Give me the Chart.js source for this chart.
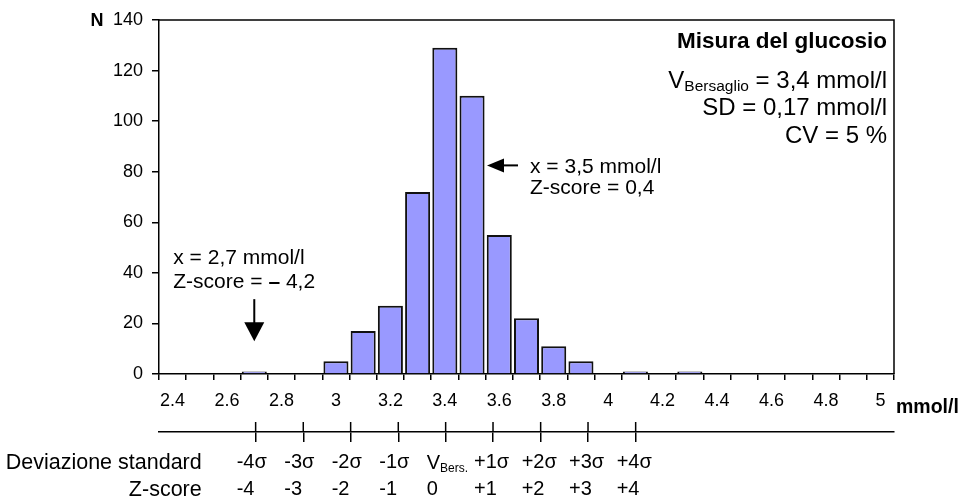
<!DOCTYPE html>
<html>
<head>
<meta charset="utf-8">
<script src="https://cdn.jsdelivr.net/npm/chart.js@4.4.1/dist/chart.umd.min.js"></script>
<style>
  body { margin: 0; background: #fff; }
</style>
</head>
<body>
<canvas id="grafico" width="961" height="504"></canvas>
<script>
const classi = ['2.4', '2.5', '2.6', '2.7', '2.8', '2.9', '3', '3.1', '3.2', '3.3', '3.4', '3.5', '3.6', '3.7',
  '3.8', '3.9', '4', '4.1', '4.2', '4.3', '4.4', '4.5', '4.6', '4.7', '4.8', '4.9', '5']
const frequenze = [0, 0, 0, 1, 0, 0, 5, 17, 27, 72, 129, 110, 55, 22, 11, 5, 0, 1, 0, 1, 0, 0, 0, 0, 0, 0, 0]

// posizioni (mmol/l) delle tacche della scala in deviazioni standard
const posizioniSigma = [2.705, 2.880, 3.054, 3.229, 3.403, 3.577, 3.752, 3.926, 4.101]
const etichetteSigma = ['-4σ', '-3σ', '-2σ', '-1σ', '', '+1σ', '+2σ', '+3σ', '+4σ']
const etichetteZ = ['-4', '-3', '-2', '-1', '0', '+1', '+2', '+3', '+4']

Chart.defaults.font.family = '"Liberation Sans", Arial, sans-serif'
Chart.defaults.color = '#000'

function scrivi(ctx, s, x, y, font, align) {
  ctx.font = font
  ctx.textAlign = align || 'left'
  ctx.fillText(s, x, y)
  return ctx.measureText(s).width
}

const annotazioni = {
  id: 'annotazioni',
  afterDraw(chart) {
    const { ctx, chartArea: a } = chart
    const x2 = chart.scales.x2
    const y = chart.scales.y
    ctx.save()
    ctx.strokeStyle = '#000'
    ctx.fillStyle = '#000'
    ctx.textBaseline = 'alphabetic'

    // cornice sopra e a destra
    ctx.lineWidth = 1.5
    ctx.beginPath()
    ctx.moveTo(a.left, a.top)
    ctx.lineTo(a.right, a.top)
    ctx.lineTo(a.right, a.bottom)
    ctx.stroke()

    // parte superiore delle tacche sigma
    posizioniSigma.forEach(v => {
      const px = x2.getPixelForValue(v)
      ctx.beginPath()
      ctx.moveTo(px, x2.top - 10)
      ctx.lineTo(px, x2.top)
      ctx.stroke()
    })

    scrivi(ctx, 'N', 97, 25.7, 'bold 18px "Liberation Sans"', 'center')
    scrivi(ctx, 'mmol/l', 896, 413, 'bold 19.5px "Liberation Sans"')

    // riquadro in alto a destra
    const dx = 887
    scrivi(ctx, 'Misura del glucosio', dx, 48, 'bold 22.5px "Liberation Sans"', 'right')
    let w = scrivi(ctx, ' = 3,4 mmol/l', dx, 88, '24px "Liberation Sans"', 'right')
    w += scrivi(ctx, 'Bersaglio', dx - w, 91, '15.5px "Liberation Sans"', 'right')
    scrivi(ctx, 'V', dx - w, 88, '24px "Liberation Sans"', 'right')
    scrivi(ctx, 'SD = 0,17 mmol/l', dx, 115, '24px "Liberation Sans"', 'right')
    scrivi(ctx, 'CV = 5 %', dx, 142.5, '24px "Liberation Sans"', 'right')

    // freccia verso il valore 3,5
    const tx = x2.getPixelForValue(3.555)
    const ty = y.getPixelForValue(82.5)
    ctx.beginPath()
    ctx.moveTo(tx, ty)
    ctx.lineTo(tx + 17, ty - 7)
    ctx.lineTo(tx + 17, ty + 7)
    ctx.closePath()
    ctx.fill()
    ctx.lineWidth = 2
    ctx.beginPath()
    ctx.moveTo(tx + 16, ty)
    ctx.lineTo(tx + 31, ty)
    ctx.stroke()
    scrivi(ctx, 'x = 3,5 mmol/l', tx + 43, ty + 8, '21px "Liberation Sans"')
    scrivi(ctx, 'Z-score = 0,4', tx + 43, ty + 29, '21px "Liberation Sans"')

    // freccia verso il valore 2,7
    const ax = x2.getPixelForValue(2.7)
    const aTop = y.getPixelForValue(29.6)
    const aTip = y.getPixelForValue(13)
    ctx.beginPath()
    ctx.moveTo(ax, aTop)
    ctx.lineTo(ax, aTip - 18)
    ctx.stroke()
    ctx.beginPath()
    ctx.moveTo(ax - 10, aTip - 19)
    ctx.lineTo(ax + 10, aTip - 19)
    ctx.lineTo(ax, aTip)
    ctx.closePath()
    ctx.fill()
    const lx = ax - 81
    scrivi(ctx, 'x = 2,7 mmol/l', lx, aTop - 35, '21px "Liberation Sans"')
    let p = lx + scrivi(ctx, 'Z-score = ', lx, aTop - 10.7, '21px "Liberation Sans"')
    p += scrivi(ctx, '–', p, aTop - 10.7, 'bold 21px "Liberation Sans"')
    scrivi(ctx, ' 4,2', p, aTop - 10.7, '21px "Liberation Sans"')

    // etichette della scala inferiore
    scrivi(ctx, 'Deviazione standard', 201.7, 469, '21.5px "Liberation Sans"', 'right')
    scrivi(ctx, 'Z-score', 201.7, 495.7, '21.5px "Liberation Sans"', 'right')
    const vx = x2.getPixelForValue(posizioniSigma[4]) - 19
    const vw = scrivi(ctx, 'V', vx, 468.5, '20px "Liberation Sans"')
    scrivi(ctx, 'Bers.', vx + vw, 471.5, '12px "Liberation Sans"')

    ctx.restore()
  }
}

const ctx = document.getElementById('grafico')

const data = {
  labels: classi,
  datasets: [{
    data: frequenze,
    xAxisID: 'x',
    yAxisID: 'y',
    backgroundColor: '#9999ff',
    borderColor: '#111',
    borderWidth: c => (c.raw ? 2 : 0),
    borderSkipped: 'bottom',
    barPercentage: 0.92,
    categoryPercentage: 1
  }]
}

const config = {
  type: 'bar',
  data: data,
  options: {
    responsive: false,
    animation: false,
    layout: { padding: { top: 20, right: 67, bottom: 0, left: 0 } },
    plugins: { legend: { display: false }, tooltip: { enabled: false } },
    scales: {
      x: {
        position: 'bottom',
        weight: 0,
        offset: true,
        grid: { offset: true, drawOnChartArea: false, tickLength: 6, color: '#000', lineWidth: 1.5 },
        border: { color: '#000', width: 1.5 },
        ticks: {
          autoSkip: false,
          maxRotation: 0,
          padding: 10,
          font: { size: 18 },
          callback: (v, i) => (i % 2 ? '' : classi[i])
        },
        afterFit: s => { s.height = 58 }
      },
      x2: {
        type: 'linear',
        position: 'bottom',
        weight: 1,
        min: 2.35,
        max: 5.05,
        offset: false,
        grid: { offset: false, drawOnChartArea: false, tickLength: 10, color: '#000', lineWidth: 1.5 },
        border: { color: '#000', width: 1.5 },
        afterBuildTicks: s => { s.ticks = posizioniSigma.map(v => ({ value: v })) },
        ticks: {
          autoSkip: false,
          maxRotation: 0,
          align: 'start',
          labelOffset: -19,
          padding: 7,
          font: { size: 20, lineHeight: 1.35 },
          callback: (v, i) => [etichetteSigma[i], etichetteZ[i]]
        },
        afterFit: s => { s.height = 72 }
      },
      y: {
        min: 0,
        max: 140,
        grid: { drawOnChartArea: false, tickLength: 7, color: '#000', lineWidth: 1.5 },
        border: { color: '#000', width: 1.5 },
        ticks: { stepSize: 20, padding: 9, font: { size: 18 } },
        afterFit: s => { s.width = 159 }
      }
    }
  },
  plugins: [annotazioni]
}

const grafico = new Chart(ctx, config)
</script>
</body>
</html>
